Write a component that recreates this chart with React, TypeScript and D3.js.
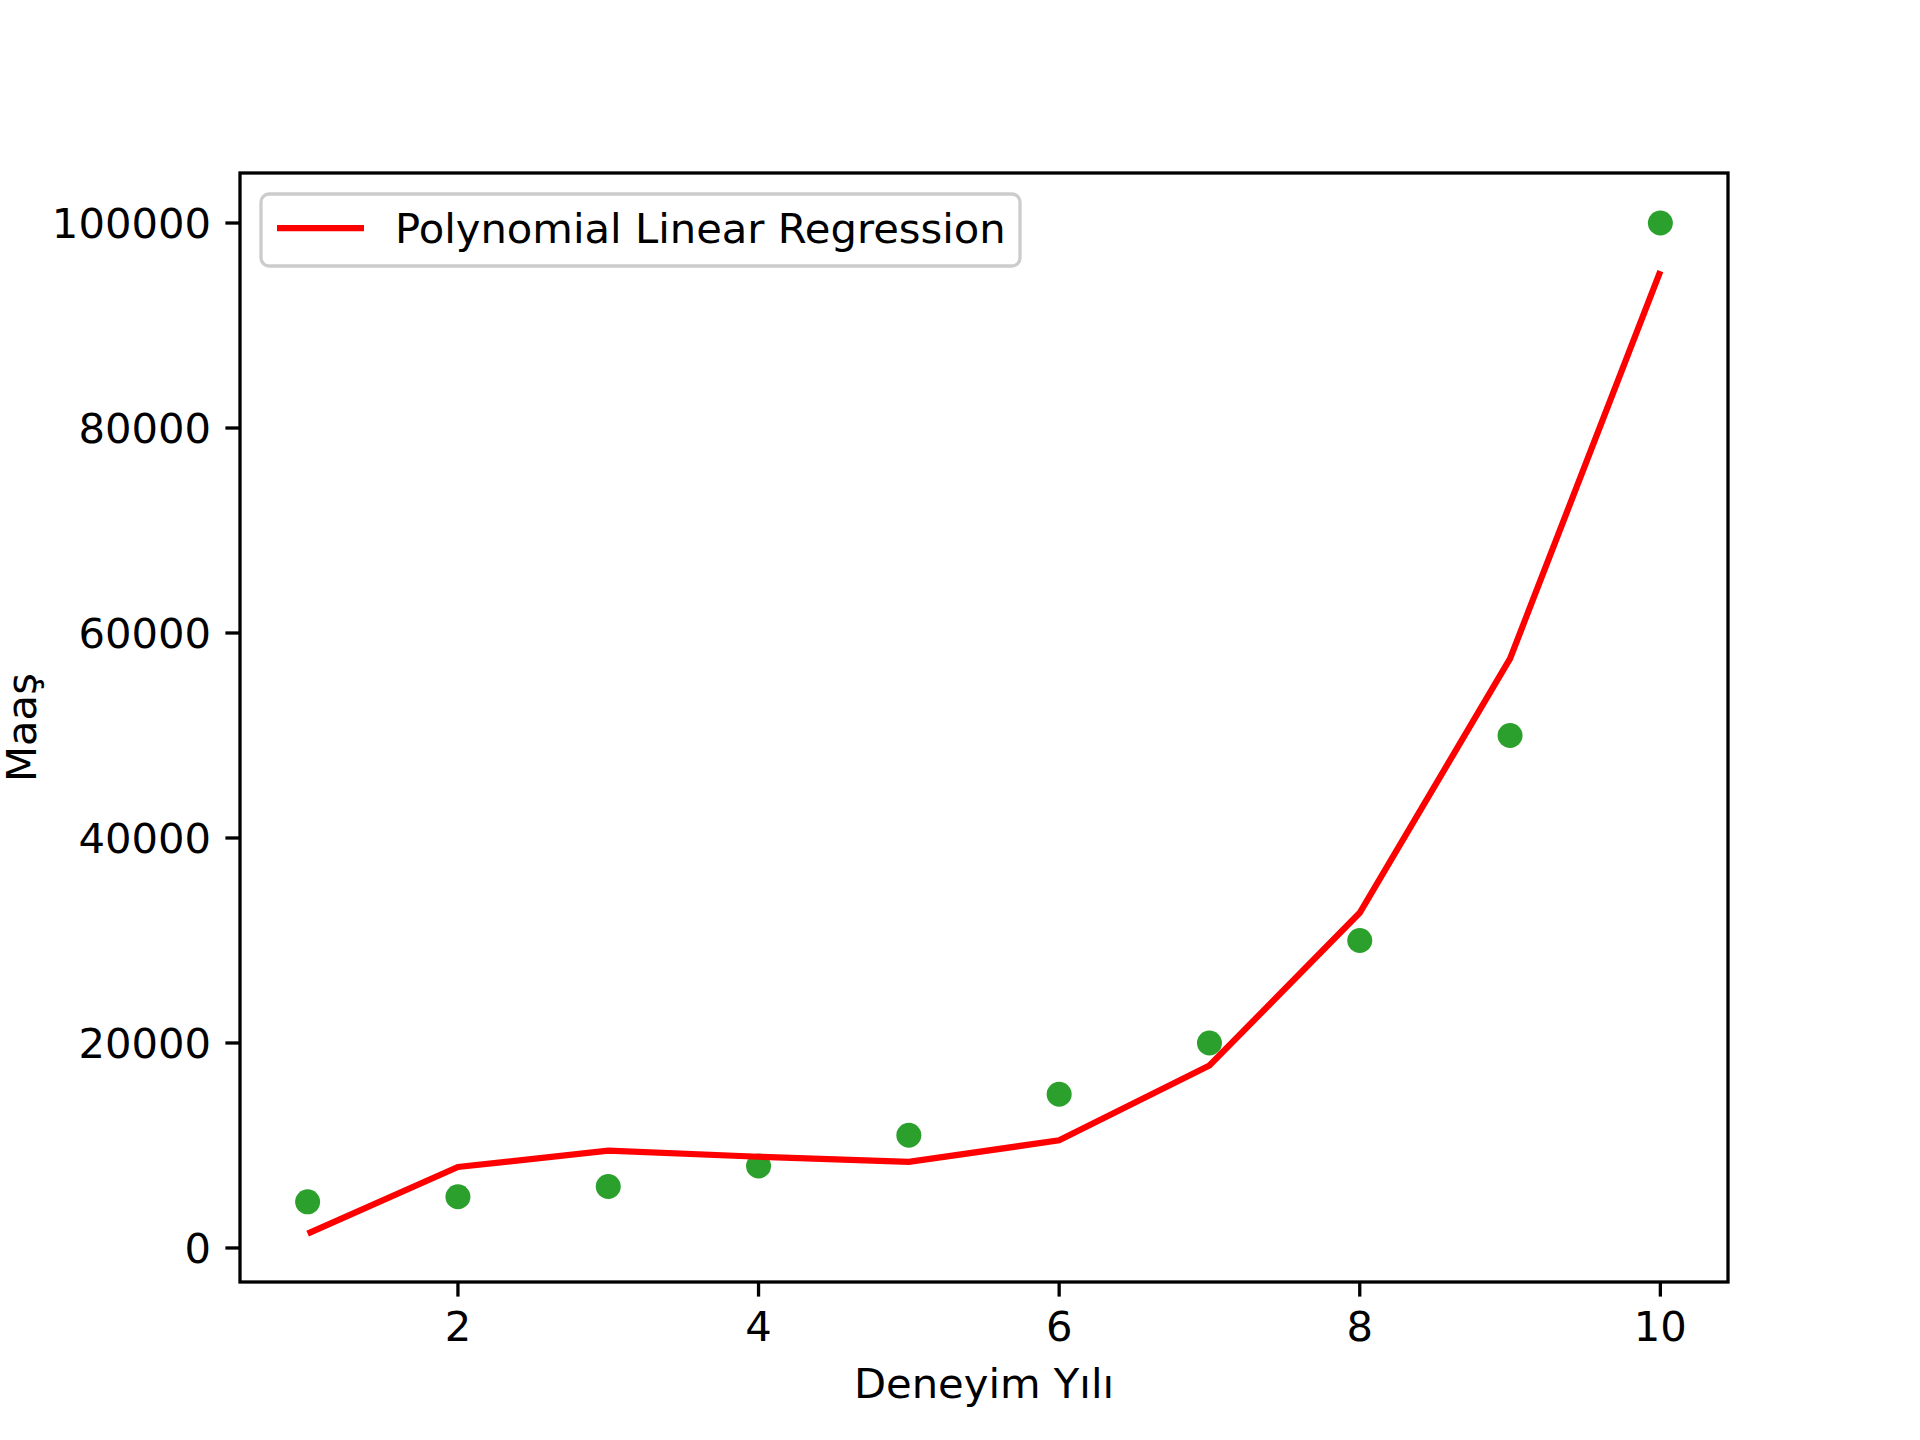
import React from "react";
import * as d3 from "d3";

const years = [1, 2, 3, 4, 5, 6, 7, 8, 9, 10];
const salaries = [4500, 5000, 6000, 8000, 11000, 15000, 20000, 30000, 50000, 100000];
const predicted = [1400, 7900, 9500, 8900, 8400, 10500, 17800, 32700, 57500, 95300];
const xTicks = [2, 4, 6, 8, 10];
const yTicks = [0, 20000, 40000, 60000, 80000, 100000];

const W = 1920;
const H = 1440;
const m = { left: 240, right: 1728, top: 173, bottom: 1282 };
const fs = 41.7;

export default function App() {
  const x = d3.scaleLinear().domain([0.55, 10.45]).range([m.left, m.right]);
  const y = d3.scaleLinear().domain([-3320, 104880]).range([m.bottom, m.top]);
  const line = d3
    .line<number>()
    .x((_, i) => x(years[i]))
    .y((d) => y(d));

  return (
    <svg
      width={W}
      height={H}
      style={{ position: "absolute", left: 0, top: 0, background: "#fff" }}
      fontFamily="DejaVu Sans"
    >
      {salaries.map((s, i) => (
        <circle key={i} cx={x(years[i])} cy={y(s)} r={12.5} fill="#2ca02c" />
      ))}
      <path d={line(predicted) ?? ""} fill="none" stroke="red" strokeWidth={6.25} />
      <rect
        x={m.left}
        y={m.top}
        width={m.right - m.left}
        height={m.bottom - m.top}
        fill="none"
        stroke="#000"
        strokeWidth={3.3}
      />
      {xTicks.map((t) => (
        <g key={t}>
          <line x1={x(t)} x2={x(t)} y1={m.bottom} y2={m.bottom + 14.6} stroke="#000" strokeWidth={3.3} />
          <text x={x(t)} y={m.bottom + 59} textAnchor="middle" fontSize={fs}>
            {t}
          </text>
        </g>
      ))}
      {yTicks.map((t) => (
        <g key={t}>
          <line x1={m.left - 14.6} x2={m.left} y1={y(t)} y2={y(t)} stroke="#000" strokeWidth={3.3} />
          <text x={m.left - 29} y={y(t)} dy="0.35em" textAnchor="end" fontSize={fs}>
            {t}
          </text>
        </g>
      ))}
      <text x={(m.left + m.right) / 2} y={1398} textAnchor="middle" fontSize={fs}>
        Deneyim Yılı
      </text>
      <text
        transform={`translate(36,${(m.top + m.bottom) / 2}) rotate(-90)`}
        textAnchor="middle"
        fontSize={fs}
      >
        Maaş
      </text>
      <g>
        <rect
          x={261}
          y={194}
          width={759}
          height={72}
          rx={8}
          fill="#fff"
          fillOpacity={0.8}
          stroke="#ccc"
          strokeWidth={3.3}
        />
        <line x1={277} x2={364} y1={228} y2={228} stroke="red" strokeWidth={6.25} />
        <text x={395} y={228} dy="0.35em" fontSize={fs}>
          Polynomial Linear Regression
        </text>
      </g>
    </svg>
  );
}
